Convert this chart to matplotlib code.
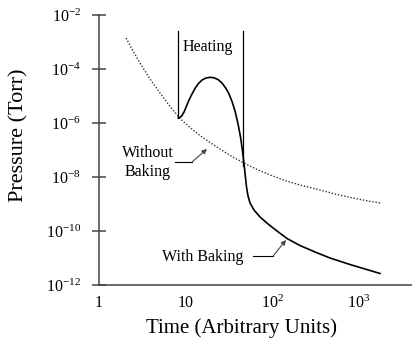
"""
Pressure vs time in a vacuum chamber, with and without bake-out.
"""

import matplotlib
matplotlib.use("Agg")
import matplotlib.pyplot as plt
from matplotlib.ticker import NullFormatter, NullLocator

# Default style settings
STYLE = {
    "font.family": ["Liberation Serif", "DejaVu Serif"],
    "mathtext.fontset": "custom",
    "mathtext.rm": "Liberation Serif",
    "mathtext.it": "Liberation Serif:italic",
    "mathtext.bf": "Liberation Serif:bold",
    "axes.unicode_minus": False,
}

# Without baking (dotted)
t_nobake = [2.052, 2.472, 2.978, 3.887, 5.073, 6.619, 8.637, 11.27, 14.71,
            19.20, 25.05, 33.57, 46.22, 65.31, 94.82, 141.3, 210.7, 358.8,
            564.0, 864.1, 1254, 1773]
p_nobake = [1.406e-3, 4.64e-4, 1.668e-4, 4.26e-5, 1.29e-5, 4.08e-6, 1.468e-6,
            6.81e-7, 3.44e-7, 1.896e-7, 1.089e-7, 5.99e-8, 3.44e-8, 1.978e-8,
            1.186e-8, 7.42e-9, 5.05e-9, 3.30e-9, 2.25e-9, 1.668e-9, 1.314e-9,
            1.089e-9]

# With baking (solid)
t_bake = [8.256, 8.637, 9.111, 9.609, 10.27, 10.98, 11.89, 12.88, 13.95,
          15.52, 17.26, 19.20, 21.35, 23.75, 26.42, 29.39, 31.84, 34.48,
          37.36, 40.46, 43.24, 45.60, 47.46, 49.13, 50.73, 52.79, 55.67,
          61.93, 72.66, 89.93, 114.2, 149.1, 210.7, 314.2, 468.3, 797.5,
          1189, 1773]
p_bake = [1.532e-6, 1.599e-6, 1.896e-6, 2.555e-6, 4.26e-6, 7.11e-6, 1.186e-5,
          1.896e-5, 2.78e-5, 3.91e-5, 4.64e-5, 4.93e-5, 4.72e-5, 4.08e-5,
          3.03e-5, 1.896e-5, 1.186e-5, 6.26e-6, 2.78e-6, 9.18e-7, 3.03e-7,
          9.18e-8, 3.03e-8, 1.089e-8, 4.26e-9, 1.978e-9, 1.089e-9, 5.99e-10,
          3.30e-10, 1.816e-10, 1.0e-10, 5.27e-11, 2.90e-11, 1.668e-11,
          1.0e-11, 5.74e-12, 3.91e-12, 2.67e-12]

# Heating period markers
heat_start = 8.256
heat_end = 46.2
heat_top = 2.6e-3
heat_end_bottom = 2.5e-8

x_ticks = [1, 10, 100, 1000]
x_labels = ["1", "10", "$10^2$", "$10^3$"]
y_ticks = [1e-12, 1e-10, 1e-8, 1e-6, 1e-4, 1e-2]
y_labels = ["$10^{-12}$", "$10^{-10}$", "$10^{-8}$", "$10^{-6}$",
            "$10^{-4}$", "$10^{-2}$"]

plt.rcParams.update(STYLE)

fig = plt.figure(figsize=(4.12, 3.38), dpi=100)
ax = fig.add_axes([0.2403, 0.1568, 0.7597, 0.7988])

ax.plot(t_nobake, p_nobake, color="#333333", linewidth=1.0,
        linestyle=(0, (1, 1.3)))
ax.plot(t_bake, p_bake, color="black", linewidth=1.2)

# Heating lines
ax.plot([heat_start, heat_start], [heat_top, p_bake[0]], color="black", linewidth=0.9)
ax.plot([heat_end, heat_end], [heat_top, heat_end_bottom], color="black", linewidth=0.9)
ax.text(18.2, 6.5e-4, "Heating", ha="center", va="center", fontsize=11.5)

# Labels with arrows
ax.text(3.69, 3.4e-8, "Without\nBaking", ha="center", va="center",
        fontsize=11.5, linespacing=1.2)
ax.plot([7.56, 11.9], [3.6e-8, 3.6e-8], color="black", linewidth=0.8)
ax.annotate("", xy=(17.7, 1.09e-7), xytext=(11.9, 3.6e-8),
            arrowprops=dict(arrowstyle="-|>", color="#444444", lw=0.8,
                            mutation_scale=7, shrinkA=0, shrinkB=0))

ax.text(15.9, 1.1e-11, "With Baking", ha="center", va="center", fontsize=11.5)
ax.plot([60.3, 103], [1.19e-11, 1.19e-11], color="black", linewidth=0.8)
ax.annotate("", xy=(145, 4.64e-11), xytext=(103, 1.19e-11),
            arrowprops=dict(arrowstyle="-|>", color="#444444", lw=0.8,
                            mutation_scale=7, shrinkA=0, shrinkB=0))

ax.set_xscale("log")
ax.set_yscale("log")
ax.set_xlim(1, 4150)
ax.set_ylim(1e-12, 1e-2)

ax.set_xticks(x_ticks)
ax.set_xticklabels(x_labels)
ax.set_xticks([1], minor=True)
ax.xaxis.set_minor_formatter(NullFormatter())
ax.set_yticks(y_ticks)
ax.set_yticklabels(y_labels)
ax.yaxis.set_minor_locator(NullLocator())

ax.tick_params(axis="x", which="major", length=0, pad=7, labelsize=11.5)
ax.tick_params(axis="x", which="minor", length=8, direction="inout",
               width=1.1, color="#444444")
ax.tick_params(axis="y", which="major", length=10, direction="inout",
               width=1.1, color="#444444", pad=8, labelsize=11.5)

for side in ["top", "right"]:
    ax.spines[side].set_visible(False)
for side in ["left", "bottom"]:
    ax.spines[side].set_color("#444444")
    ax.spines[side].set_linewidth(1.1)

ax.set_xlabel("Time (Arbitrary Units)", fontsize=15)
ax.xaxis.set_label_coords(0.454, -0.125)
ax.set_ylabel("Pressure (Torr)", fontsize=16)
ax.yaxis.set_label_coords(-0.225, 0.556)

fig.savefig("out.png", dpi=100)
